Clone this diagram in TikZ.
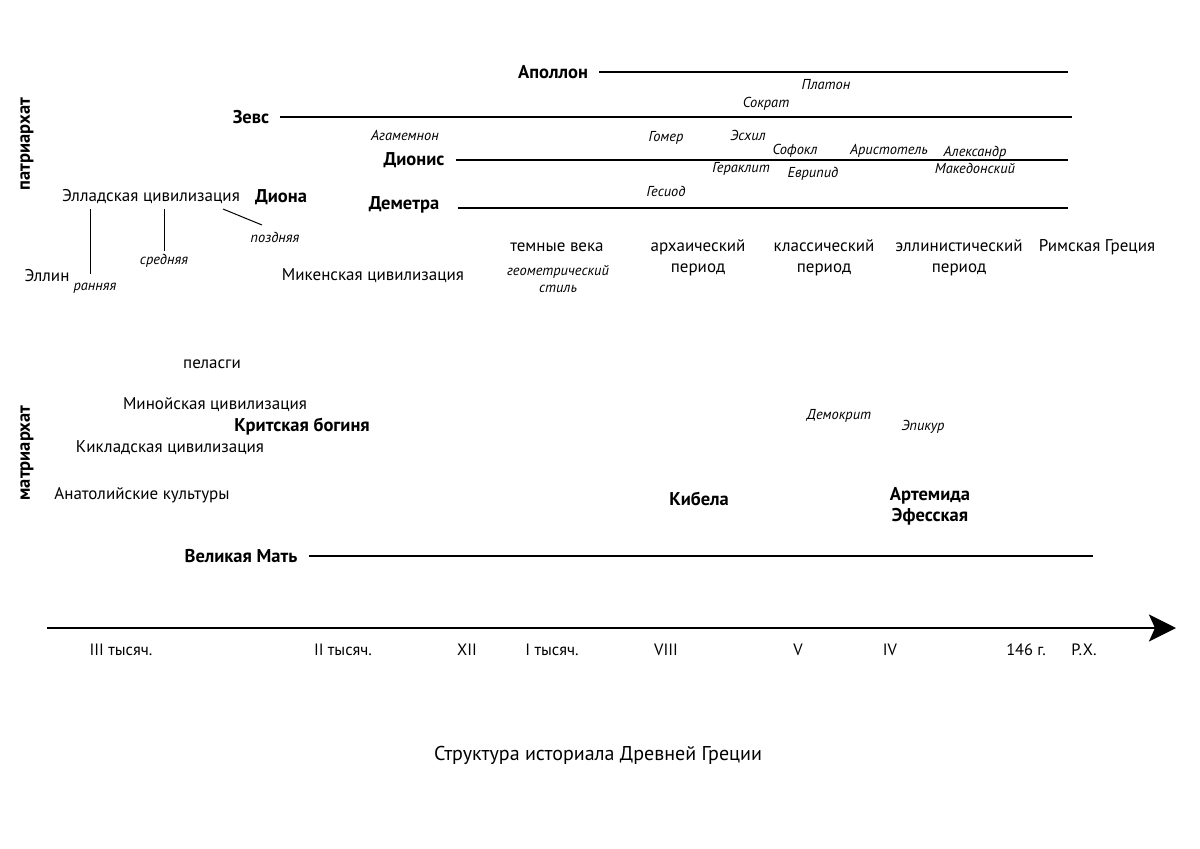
\documentclass[tikz,border=0pt]{standalone}
\usepackage{fontspec}
\setmainfont{PT Sans}
\usetikzlibrary{arrows.meta}

\tikzset{
  plain/.style={font=\fontsize{17}{19}\selectfont, inner sep=1pt},
  deity/.style={font=\fontsize{18.5}{21}\selectfont\bfseries, inner sep=6pt},
  person/.style={font=\fontsize{14.4}{17}\selectfont\itshape, inner sep=1pt, align=center},
  era/.style={font=\fontsize{17}{21}\selectfont, align=center, inner sep=1pt},
  tick/.style={font=\fontsize{16.4}{18}\selectfont, inner sep=1pt},
  godline/.style={line width=1.3pt, shorten <=5pt},
  branch/.style={line width=1pt},
  timeaxis/.style={line width=2.8pt, -{Stealth[length=27pt,width=27pt,inset=6pt]}},
}

\begin{document}
\begin{tikzpicture}[x=1pt, y=-1pt]
\useasboundingbox (0,0) rectangle (1200,849);

% Side labels
\node[deity, rotate=90] (patr) at (27,144) {патриархат};
\node[deity, rotate=90] (matr) at (27,453) {матриархат};

% Gods of the patriarchy
\node[deity] (apollo) at (553,72) {Аполлон};
\node[deity] (zeus) at (251,117) {Зевс};
\node[deity] (dionysus) at (414,160) {Дионис};
\node[deity] (demeter) at (404,205) {Деметра};
\coordinate (apolloEnd) at (1068,72);
\coordinate (zeusEnd) at (1072,117);
\coordinate (dionysusEnd) at (1068,160);
\coordinate (demeterEnd) at (1068,208);
\draw[godline] (apollo) -- (apollo -| apolloEnd);
\draw[godline] (zeus) -- (zeus -| zeusEnd);
\draw[godline] (dionysus) -- (dionysus -| dionysusEnd);
\draw[godline, shorten <=13pt] (demeter.east |- demeterEnd) -- (demeterEnd);

% People
\node[person] (platon) at (826,85) {Платон};
\node[person] (sokrat) at (766,104) {Сократ};
\node[person] (agam) at (405,135) {Агамемнон};
\node[person] (homer) at (666,138) {Гомер};
\node[person] (aesch) at (748,135) {Эсхил};
\node[person] (soph) at (795,151) {Софокл};
\node[person] (arist) at (889,151) {Аристотель};
\node[person] (alex) at (975,160) {Александр\\Македонский};
\node[person] (herakl) at (741,169) {Гераклит};
\node[person] (eurip) at (813,174) {Еврипид};
\node[person] (hesiod) at (666,191) {Гесиод};

% Helladic civilization
\node[plain] (hellas) at (151,197) {Элладская цивилизация};
\node[deity] (dione) at (281,197) {Диона};
\node[plain] (hellen) at (47,276) {Эллин};
\node[person] (early) at (95,288) {ранняя};
\node[person] (middle) at (164,261) {средняя};
\node[person] (late) at (275,237) {поздняя};
\coordinate (earlyEnd) at (90,274);
\coordinate (middleEnd) at (164,251);
\coordinate (lateEnd) at (262,225);
\draw[branch] (earlyEnd |- 0,209) -- (earlyEnd);
\draw[branch] (middleEnd |- 0,209) -- (middleEnd);
\draw[branch] (223,209) -- (lateEnd);
\node[plain] (myc) at (373,276) {Микенская цивилизация};

% Periods
\node[era] (dark) at (557,247) {темные века};
\node[person] (geom) at (558,279) {геометрический\\стиль};
\node[era] (archaic) at (698,258) {архаический\\период};
\node[era] (classic) at (824,258) {классический\\период};
\node[era] (hellen2) at (959,258) {эллинистический\\период};
\node[era] (rome) at (1097,247) {Римская Греция};

% Matriarchy
\node[plain] (pelasg) at (212,364) {пеласги};
\node[plain] (minoan) at (215,405) {Минойская цивилизация};
\node[deity] (cretan) at (302,427) {Критская богиня};
\node[plain] (cyclad) at (170,448) {Кикладская цивилизация};
\node[plain] (anatol) at (142,495) {Анатолийские культуры};
\node[person] (demokr) at (839,416) {Демокрит};
\node[person] (epikur) at (923,427) {Эпикур};
\node[deity] (kybele) at (699,499) {Кибела};
\node[deity, align=center] (artemis) at (930,506) {Артемида\\Эфесская};
\node[deity] (mother) at (241,556) {Великая Мать};
\coordinate (motherEnd) at (1093,556);
\draw[godline] (mother) -- (mother -| motherEnd);

% Time axis
\coordinate (axisStart) at (47,628);
\coordinate (axisEnd) at (1176,628);
\draw[timeaxis] (axisStart) -- (axisEnd);
\node[tick] (t3) at (121,650) {III тысяч.};
\node[tick] (t2) at (343,650) {II тысяч.};
\node[tick] (t12) at (467,650) {XII};
\node[tick] (t1) at (552,650) {I тысяч.};
\node[tick] (t8) at (666,650) {VIII};
\node[tick] (t5) at (798,650) {V};
\node[tick] (t4) at (890,650) {IV};
\node[tick] (t146) at (1026,650) {146 г.};
\node[tick] (trx) at (1084,650) {Р.Х.};

% Title
\node[font=\fontsize{20}{23}\selectfont] (title) at (598,755) {Структура историала Древней Греции};
\end{tikzpicture}
\end{document}
